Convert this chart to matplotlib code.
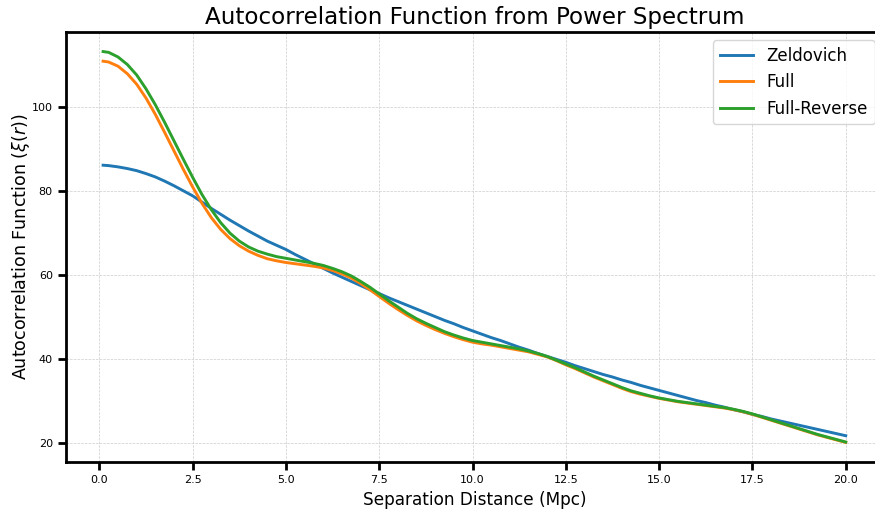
import numpy as np
import matplotlib.pyplot as plt

# separation distance (Mpc)
r = [0.1, 0.25, 0.5, 0.75, 1.0, 1.25, 1.5, 1.75, 2.0, 2.25, 2.5, 2.75, 3.0, 3.25,
     3.5, 3.75, 4.0, 4.25, 4.5, 4.75, 5.0, 5.25, 5.5, 5.75, 6.0, 6.25, 6.5, 6.75,
     7.0, 7.25, 7.5, 7.75, 8.0, 8.25, 8.5, 8.75, 9.0, 9.25, 9.5, 9.75, 10.0,
     10.25, 10.5, 10.75, 11.0, 11.25, 11.5, 11.75, 12.0, 12.25, 12.5, 12.75,
     13.0, 13.25, 13.5, 13.75, 14.0, 14.25, 14.5, 14.75, 15.0, 15.25, 15.5,
     15.75, 16.0, 16.25, 16.5, 16.75, 17.0, 17.25, 17.5, 17.75, 18.0, 18.25,
     18.5, 18.75, 19.0, 19.25, 19.5, 19.75, 20.0]

xi_zeldovich = [86.2, 86.1, 85.8, 85.4, 84.9, 84.2, 83.4, 82.4, 81.3, 80.1, 78.9,
                77.4, 75.9, 74.5, 73.1, 71.8, 70.5, 69.3, 68.1, 67.1, 66.1, 64.9,
                63.8, 62.7, 61.6, 60.5, 59.5, 58.5, 57.5, 56.5, 55.6, 54.6, 53.7,
                52.8, 51.9, 51.0, 50.1, 49.2, 48.4, 47.5, 46.7, 45.9, 45.1, 44.4,
                43.6, 42.8, 42.1, 41.3, 40.6, 39.9, 39.2, 38.4, 37.7, 37.0, 36.3,
                35.7, 35.0, 34.4, 33.7, 33.1, 32.5, 31.9, 31.3, 30.7, 30.1, 29.6,
                29.0, 28.5, 27.9, 27.4, 26.8, 26.3, 25.7, 25.2, 24.7, 24.2, 23.7,
                23.2, 22.7, 22.2, 21.7]

xi_full = [111.0, 110.8, 109.8, 108.0, 105.5, 102.2, 98.3, 94.0, 89.6, 85.2, 81.0,
           77.1, 73.7, 70.9, 68.7, 67.0, 65.7, 64.7, 63.9, 63.4, 63.0, 62.7, 62.4,
           62.1, 61.7, 61.1, 60.3, 59.3, 58.0, 56.5, 54.9, 53.3, 51.8, 50.4, 49.1,
           48.0, 47.0, 46.1, 45.3, 44.6, 44.0, 43.6, 43.3, 42.9, 42.5, 42.1, 41.7,
           41.1, 40.5, 39.6, 38.6, 37.7, 36.7, 35.7, 34.8, 33.9, 33.0, 32.2, 31.6,
           31.1, 30.6, 30.2, 29.8, 29.5, 29.2, 28.9, 28.6, 28.3, 27.9, 27.4, 26.8,
           26.1, 25.4, 24.7, 24.0, 23.3, 22.6, 21.9, 21.3, 20.7, 20.1]

xi_full_reverse = [113.3, 113.1, 112.0, 110.2, 107.7, 104.4, 100.6, 96.4, 92.0,
                   87.6, 83.3, 79.2, 75.6, 72.5, 70.0, 68.1, 66.7, 65.7, 65.0,
                   64.4, 64.0, 63.6, 63.2, 62.8, 62.3, 61.6, 60.8, 59.8, 58.5,
                   57.1, 55.5, 53.9, 52.4, 50.9, 49.6, 48.5, 47.5, 46.5, 45.7,
                   45.0, 44.4, 44.0, 43.6, 43.2, 42.8, 42.4, 41.9, 41.3, 40.6,
                   39.7, 38.8, 37.9, 36.9, 35.9, 35.0, 34.1, 33.2, 32.4, 31.8,
                   31.2, 30.7, 30.3, 29.9, 29.6, 29.3, 29.0, 28.7, 28.4, 28.0,
                   27.5, 26.9, 26.2, 25.5, 24.8, 24.1, 23.4, 22.7, 22.0, 21.4,
                   20.8, 20.2]

fig, ax = plt.subplots(figsize=(8.75, 5.12), dpi=100)
fig.subplots_adjust(left=0.0754, right=1.009, top=0.9375, bottom=0.0977)

ax.plot(r, xi_zeldovich, color='#1f77b4', linewidth=2.1, label='Zeldovich')
ax.plot(r, xi_full, color='#ff7f0e', linewidth=2.1, label='Full')
ax.plot(r, xi_full_reverse, color='#2ca02c', linewidth=2.1, label='Full-Reverse')

ax.set_title('Autocorrelation Function from Power Spectrum', fontsize=16.6)
ax.set_xlabel('Separation Distance (Mpc)', fontsize=12.2)
ax.set_ylabel(r'Autocorrelation Function ($\xi(r)$)', fontsize=12.6, labelpad=0)

ax.grid(True, linestyle='--', linewidth=0.5, color='#cccccc')
ax.tick_params(axis='both', labelsize=8, width=2, length=6)
for s in ax.spines.values():
    s.set_linewidth(2)

ax.legend(fontsize=12, loc='upper right')

fig.savefig('out.png', dpi=100)
